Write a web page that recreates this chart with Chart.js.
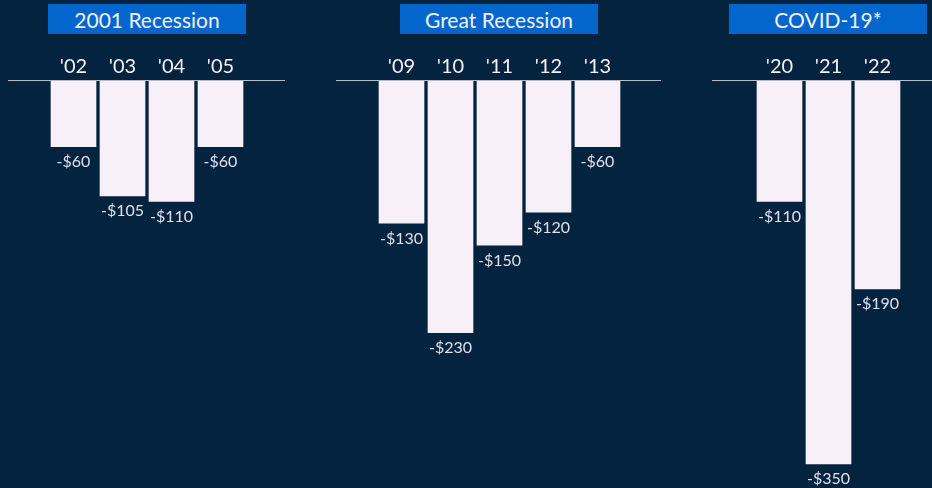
<!DOCTYPE html>
<html>
<head>
<meta charset="utf-8">
<script src="https://cdn.jsdelivr.net/npm/chart.js@4"></script>
<style>
  html, body { margin: 0; padding: 0; background: #03233F; width: 932px; height: 488px; overflow: hidden; font-family: Lato, sans-serif; }
  .wrap { position: absolute; top: 0; height: 488px; }
  .title { position: absolute; top: 4px; height: 30px; width: 198px; background: #0366CC; color: #F4F0F8; font: 21px Lato, sans-serif; text-align: center; line-height: 32px; }
</style>
</head>
<body>
<div class="title" style="left:48px">2001 Recession</div>
<div class="title" style="left:400px">Great Recession</div>
<div class="title" style="left:729px">COVID-19*</div>
<div class="wrap" style="left:8px;width:277px"><canvas id="c1" width="277" height="488"></canvas></div>
<div class="wrap" style="left:336px;width:325px"><canvas id="c2" width="325" height="488"></canvas></div>
<div class="wrap" style="left:712px;width:220px"><canvas id="c3" width="220" height="488"></canvas></div>
<script>
// ---- data ----
const titles = ["2001 Recession", "Great Recession", "COVID-19*"];
const cats2001 = ["'02", "'03", "'04", "'05"];
const vals2001 = [-60, -105, -110, -60];
const catsGreat = ["'09", "'10", "'11", "'12", "'13"];
const valsGreat = [-130, -230, -150, -120, -60];
const catsCovid = ["'20", "'21", "'22"];
const valsCovid = [-110, -350, -190];
const yMin = -372;

const BAR = '#F7F0F8';
const LINE = '#B4BAC6';
const LABEL = '#E2DEEA';

const zeroLine = {
  id: 'zeroLine',
  afterDatasetsDraw(chart) {
    const ctx = chart.ctx;
    const y = Math.round(chart.scales.y.getPixelForValue(0)) - 0.5;
    ctx.save();
    ctx.strokeStyle = LINE;
    ctx.lineWidth = 1.2;
    ctx.beginPath();
    ctx.moveTo(0, y);
    ctx.lineTo(chart.width, y);
    ctx.stroke();
    // value labels
    ctx.fillStyle = LABEL;
    ctx.font = '16px Lato';
    ctx.textAlign = 'center';
    ctx.textBaseline = 'alphabetic';
    const meta = chart.getDatasetMeta(0);
    const data = chart.data.datasets[0].data;
    meta.data.forEach((bar, i) => {
      const v = data[i];
      ctx.fillText('-$' + Math.abs(v), bar.x, bar.y + 20.5);
    });
    ctx.restore();
  }
};

function makeChart(id, cats, vals, padL, padR) {
  return new Chart(document.getElementById(id), {
    type: 'bar',
    data: { labels: cats, datasets: [{ data: vals, backgroundColor: BAR, borderWidth: 0, barThickness: 45 }] },
    options: {
      responsive: false,
      animation: false,
      devicePixelRatio: 1,
      layout: { padding: { left: padL, right: padR, top: 0, bottom: 0 } },
      plugins: { legend: { display: false }, tooltip: { enabled: false }, title: { display: false } },
      scales: {
        x: {
          position: 'top',
          grid: { display: false, drawTicks: false },
          border: { display: false },
          ticks: { color: '#F7F0F8', font: { family: 'Lato', size: 20 }, padding: 2, maxRotation: 0 },
          afterFit: s => { s.height = 81; }
        },
        y: { display: false, min: yMin, max: 0 }
      }
    },
    plugins: [zeroLine]
  });
}

function build() {
  makeChart('c1', cats2001, vals2001, 41, 40);
  makeChart('c2', catsGreat, valsGreat, 41, 39);
  makeChart('c3', catsCovid, valsCovid, 43, 30);
}
if (document.fonts && document.fonts.load) {
  Promise.all([document.fonts.load('20px Lato'), document.fonts.load('16px Lato')]).then(build, build);
} else { build(); }
</script>
</body>
</html>
